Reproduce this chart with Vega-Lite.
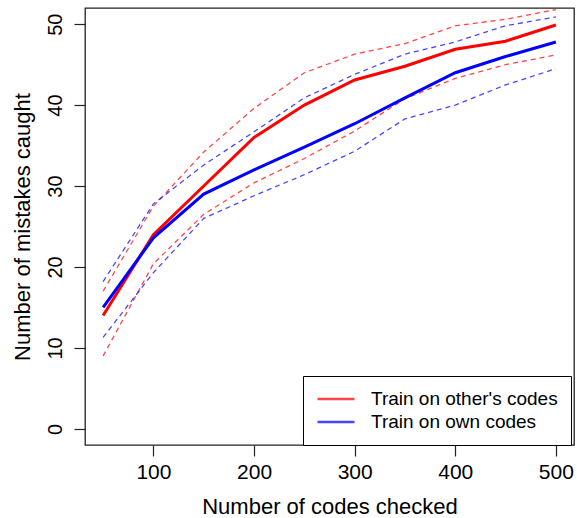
{
  "$schema": "https://vega.github.io/schema/vega-lite/v6.json",
  "width": 489,
  "height": 437,
  "autosize": {"type": "none"},
  "padding": {"left": 85, "top": 8, "right": 3, "bottom": 73},
  "background": "white",
  "data": {
    "values": [
      {"codes": 50, "caught": 14.0, "series": "Train on other's codes", "band": "mean"},
      {"codes": 100, "caught": 24.0, "series": "Train on other's codes", "band": "mean"},
      {"codes": 150, "caught": 30.0, "series": "Train on other's codes", "band": "mean"},
      {"codes": 200, "caught": 36.0, "series": "Train on other's codes", "band": "mean"},
      {"codes": 250, "caught": 40.0, "series": "Train on other's codes", "band": "mean"},
      {"codes": 300, "caught": 43.1, "series": "Train on other's codes", "band": "mean"},
      {"codes": 350, "caught": 44.8, "series": "Train on other's codes", "band": "mean"},
      {"codes": 400, "caught": 46.9, "series": "Train on other's codes", "band": "mean"},
      {"codes": 450, "caught": 47.9, "series": "Train on other's codes", "band": "mean"},
      {"codes": 500, "caught": 49.9, "series": "Train on other's codes", "band": "mean"},
      {"codes": 50, "caught": 17.0, "series": "Train on other's codes", "band": "upper"},
      {"codes": 100, "caught": 27.5, "series": "Train on other's codes", "band": "upper"},
      {"codes": 150, "caught": 34.2, "series": "Train on other's codes", "band": "upper"},
      {"codes": 200, "caught": 39.6, "series": "Train on other's codes", "band": "upper"},
      {"codes": 250, "caught": 44.0, "series": "Train on other's codes", "band": "upper"},
      {"codes": 300, "caught": 46.3, "series": "Train on other's codes", "band": "upper"},
      {"codes": 350, "caught": 47.6, "series": "Train on other's codes", "band": "upper"},
      {"codes": 400, "caught": 49.8, "series": "Train on other's codes", "band": "upper"},
      {"codes": 450, "caught": 50.6, "series": "Train on other's codes", "band": "upper"},
      {"codes": 500, "caught": 51.8, "series": "Train on other's codes", "band": "upper"},
      {"codes": 50, "caught": 9.0, "series": "Train on other's codes", "band": "lower"},
      {"codes": 100, "caught": 20.4, "series": "Train on other's codes", "band": "lower"},
      {"codes": 150, "caught": 26.5, "series": "Train on other's codes", "band": "lower"},
      {"codes": 200, "caught": 30.4, "series": "Train on other's codes", "band": "lower"},
      {"codes": 250, "caught": 33.4, "series": "Train on other's codes", "band": "lower"},
      {"codes": 300, "caught": 36.8, "series": "Train on other's codes", "band": "lower"},
      {"codes": 350, "caught": 40.8, "series": "Train on other's codes", "band": "lower"},
      {"codes": 400, "caught": 43.3, "series": "Train on other's codes", "band": "lower"},
      {"codes": 450, "caught": 45.0, "series": "Train on other's codes", "band": "lower"},
      {"codes": 500, "caught": 46.2, "series": "Train on other's codes", "band": "lower"},
      {"codes": 50, "caught": 15.0, "series": "Train on own codes", "band": "mean"},
      {"codes": 100, "caught": 23.6, "series": "Train on own codes", "band": "mean"},
      {"codes": 150, "caught": 29.0, "series": "Train on own codes", "band": "mean"},
      {"codes": 200, "caught": 32.0, "series": "Train on own codes", "band": "mean"},
      {"codes": 250, "caught": 34.8, "series": "Train on own codes", "band": "mean"},
      {"codes": 300, "caught": 37.7, "series": "Train on own codes", "band": "mean"},
      {"codes": 350, "caught": 40.9, "series": "Train on own codes", "band": "mean"},
      {"codes": 400, "caught": 44.0, "series": "Train on own codes", "band": "mean"},
      {"codes": 450, "caught": 46.0, "series": "Train on own codes", "band": "mean"},
      {"codes": 500, "caught": 47.8, "series": "Train on own codes", "band": "mean"},
      {"codes": 50, "caught": 18.2, "series": "Train on own codes", "band": "upper"},
      {"codes": 100, "caught": 27.8, "series": "Train on own codes", "band": "upper"},
      {"codes": 150, "caught": 32.6, "series": "Train on own codes", "band": "upper"},
      {"codes": 200, "caught": 36.7, "series": "Train on own codes", "band": "upper"},
      {"codes": 250, "caught": 40.9, "series": "Train on own codes", "band": "upper"},
      {"codes": 300, "caught": 43.8, "series": "Train on own codes", "band": "upper"},
      {"codes": 350, "caught": 46.3, "series": "Train on own codes", "band": "upper"},
      {"codes": 400, "caught": 47.8, "series": "Train on own codes", "band": "upper"},
      {"codes": 450, "caught": 49.8, "series": "Train on own codes", "band": "upper"},
      {"codes": 500, "caught": 50.9, "series": "Train on own codes", "band": "upper"},
      {"codes": 50, "caught": 11.3, "series": "Train on own codes", "band": "lower"},
      {"codes": 100, "caught": 19.3, "series": "Train on own codes", "band": "lower"},
      {"codes": 150, "caught": 26.0, "series": "Train on own codes", "band": "lower"},
      {"codes": 200, "caught": 28.8, "series": "Train on own codes", "band": "lower"},
      {"codes": 250, "caught": 31.4, "series": "Train on own codes", "band": "lower"},
      {"codes": 300, "caught": 34.3, "series": "Train on own codes", "band": "lower"},
      {"codes": 350, "caught": 38.3, "series": "Train on own codes", "band": "lower"},
      {"codes": 400, "caught": 40.0, "series": "Train on own codes", "band": "lower"},
      {"codes": 450, "caught": 42.5, "series": "Train on own codes", "band": "lower"},
      {"codes": 500, "caught": 44.5, "series": "Train on own codes", "band": "lower"}
    ]
  },
  "encoding": {
    "x": {
      "field": "codes", "type": "quantitative",
      "scale": {"domain": [32, 518], "nice": false, "zero": false},
      "axis": {
        "values": [100, 200, 300, 400, 500],
        "title": "Number of codes checked",
        "labelFontSize": 21,
        "labelPadding": 5,
        "titleFontSize": 22,
        "titleBaseline": "alphabetic",
        "titleY": 68
      }
    },
    "y": {
      "field": "caught", "type": "quantitative",
      "scale": {"domain": [-2, 52], "nice": false, "zero": false},
      "axis": {
        "values": [0, 10, 20, 30, 40, 50],
        "title": "Number of mistakes caught",
        "labelFontSize": 20,
        "labelAngle": -90,
        "labelAlign": "center",
        "labelBaseline": "alphabetic",
        "labelPadding": 13,
        "titleFontSize": 22,
        "titleAngle": -90,
        "titleAlign": "center",
        "titleBaseline": "alphabetic",
        "titleX": -56,
        "titleY": 218.5
      }
    }
  },
  "layer": [
    {
      "transform": [{"filter": "datum.band != 'mean'"}],
      "mark": {"type": "line", "strokeWidth": 1.3, "strokeDash": [5, 4], "opacity": 0.72},
      "encoding": {
        "color": {"field": "series", "type": "nominal",
          "scale": {"domain": ["Train on other's codes", "Train on own codes"], "range": ["#FF0000", "#0000FF"]}},
        "detail": {"field": "band", "type": "nominal"}
      }
    },
    {
      "transform": [{"filter": "datum.band == 'mean'"}],
      "mark": {"type": "line", "strokeWidth": 3},
      "encoding": {
        "color": {
          "field": "series", "type": "nominal",
          "scale": {"domain": ["Train on other's codes", "Train on own codes"], "range": ["#FF0000", "#0000FF"]},
          "legend": {
            "orient": "none",
            "legendX": 218,
            "legendY": 368,
            "title": null,
            "strokeColor": "black",
            "fillColor": "white",
            "padding": 13,
            "labelFontSize": 19,
            "labelFont": "Liberation Sans",
            "labelColor": "black",
            "labelLimit": 400,
            "symbolType": "stroke",
            "symbolSize": 1369,
            "symbolStrokeWidth": 2.5,
            "symbolDash": [],
            "symbolOpacity": 1,
            "labelOffset": 15,
            "rowPadding": 3,
            "clipHeight": 20
          }
        }
      }
    }
  ],
  "config": {
    "view": {"stroke": "#222222", "strokeWidth": 1.3},
    "axis": {
      "domain": false,
      "grid": false,
      "ticks": true,
      "tickColor": "#222222",
      "tickSize": 11,
      "tickWidth": 1.2,
      "labelColor": "black",
      "titleColor": "black",
      "labelFont": "Liberation Sans",
      "titleFont": "Liberation Sans",
      "titleFontWeight": "normal"
    }
  }
}
